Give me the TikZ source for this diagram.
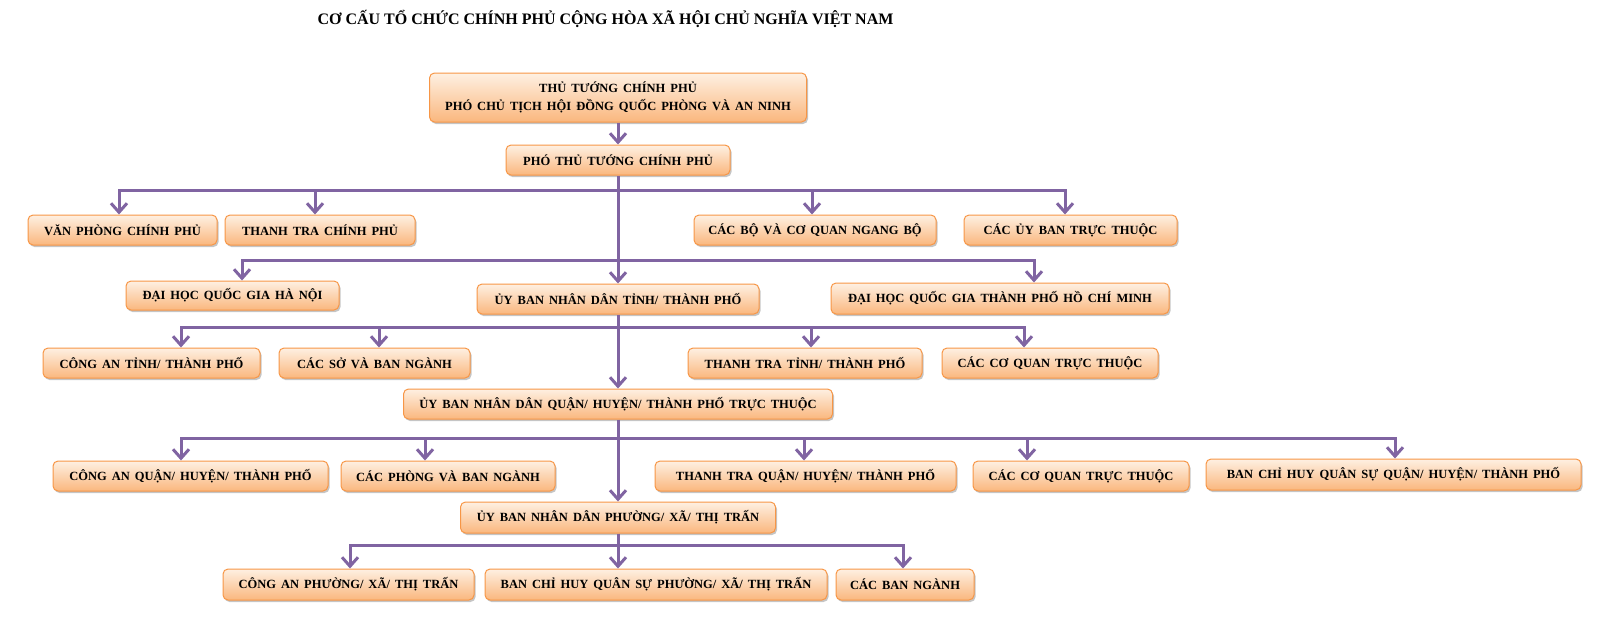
\documentclass[tikz,border=0pt]{standalone}
\usepackage{fontspec}
\setmainfont{Liberation Serif}
\newfontfamily\boxfont[WordSpace=1.6]{Liberation Serif}
\usetikzlibrary{arrows.meta,shadows}
\definecolor{obord}{HTML}{F79646}
\definecolor{otop}{HTML}{FEF0E2}
\definecolor{obot}{HTML}{FAB77E}
\definecolor{purp}{HTML}{8064A2}
\tikzset{
  bx/.style={draw=obord, line width=1pt, rounded corners=5pt, top color=otop, bottom color=obot,
    font=\boxfont\fontsize{12.5}{17.5}\selectfont\bfseries, inner sep=0pt, align=center,
    drop shadow={shadow xshift=1.5pt, shadow yshift=-2pt, fill=black!45, opacity=0.5}},
  conn/.style={draw=purp, line width=3pt},
  arr/.style={conn, -{Straight Barb[length=9pt,width=16pt]}},
  ttl/.style={font=\fontsize{16}{18}\selectfont\bfseries},
}
\begin{document}
\begin{tikzpicture}[x=1pt,y=-1pt]
\useasboundingbox (0,0) rectangle (1606,638);
\node[ttl] (title) at (605.5,19) {CƠ CẤU TỔ CHỨC CHÍNH PHỦ CỘNG HÒA XÃ HỘI CHỦ NGHĨA VIỆT NAM};
% central column
\node[bx, minimum width=377pt, minimum height=49pt] (b1) at (618,97.5) {THỦ TƯỚNG CHÍNH PHỦ\\PHÓ CHỦ TỊCH HỘI ĐỒNG QUỐC PHÒNG VÀ AN NINH};
\node[bx, minimum width=224pt, minimum height=30pt] (b2) at (618,160) {PHÓ THỦ TƯỚNG CHÍNH PHỦ};
\node[bx, minimum width=282pt, minimum height=30pt] (ubt) at (618,299) {ỦY BAN NHÂN DÂN TỈNH/ THÀNH PHỐ};
\node[bx, minimum width=429pt, minimum height=30pt] (ubq) at (618,404) {ỦY BAN NHÂN DÂN QUẬN/ HUYỆN/ THÀNH PHỐ TRỰC THUỘC};
\node[bx, minimum width=315pt, minimum height=31pt] (ubp) at (618,517.5) {ỦY BAN NHÂN DÂN PHƯỜNG/ XÃ/ THỊ TRẤN};
% row 1
\node[bx, minimum width=189pt, minimum height=30pt] (vp) at (122.5,230) {VĂN PHÒNG CHÍNH PHỦ};
\node[bx, minimum width=190pt, minimum height=30pt] (ttcp) at (320,230) {THANH TRA CHÍNH PHỦ};
\node[bx, minimum width=242pt, minimum height=30pt] (cbo) at (815,230) {CÁC BỘ VÀ CƠ QUAN NGANG BỘ};
\node[bx, minimum width=213pt, minimum height=30pt] (cub) at (1070.5,230) {CÁC ỦY BAN TRỰC THUỘC};
% row 2
\node[bx, minimum width=213pt, minimum height=29pt] (dhhn) at (232.5,295.5) {ĐẠI HỌC QUỐC GIA HÀ NỘI};
\node[bx, minimum width=338pt, minimum height=31pt] (dhhcm) at (1000,298.5) {ĐẠI HỌC QUỐC GIA THÀNH PHỐ HỒ CHÍ MINH};
% row 3
\node[bx, minimum width=217pt, minimum height=30pt] (cat) at (151.5,363) {CÔNG AN TỈNH/ THÀNH PHỐ};
\node[bx, minimum width=191pt, minimum height=30pt] (cso) at (374.5,363) {CÁC SỞ VÀ BAN NGÀNH};
\node[bx, minimum width=234pt, minimum height=30pt] (ttt) at (805,363) {THANH TRA TỈNH/ THÀNH PHỐ};
\node[bx, minimum width=216pt, minimum height=30pt] (cqt) at (1050,363) {CÁC CƠ QUAN TRỰC THUỘC};
% row 4
\node[bx, minimum width=275pt, minimum height=30pt] (caq) at (190.5,476) {CÔNG AN QUẬN/ HUYỆN/ THÀNH PHỐ};
\node[bx, minimum width=214pt, minimum height=30pt] (cph) at (448,476) {CÁC PHÒNG VÀ BAN NGÀNH};
\node[bx, minimum width=301pt, minimum height=30pt] (ttq) at (805.5,476) {THANH TRA QUẬN/ HUYỆN/ THÀNH PHỐ};
\node[bx, minimum width=216pt, minimum height=30pt] (cqq) at (1081,476) {CÁC CƠ QUAN TRỰC THUỘC};
\node[bx, minimum width=375pt, minimum height=31pt] (bchq) at (1393.5,474.5) {BAN CHỈ HUY QUÂN SỰ QUẬN/ HUYỆN/ THÀNH PHỐ};
% row 5
\node[bx, minimum width=251pt, minimum height=31pt] (cap) at (348.5,584.5) {CÔNG AN PHƯỜNG/ XÃ/ THỊ TRẤN};
\node[bx, minimum width=342pt, minimum height=31pt] (bchp) at (656,584.5) {BAN CHỈ HUY QUÂN SỰ PHƯỜNG/ XÃ/ THỊ TRẤN};
\node[bx, minimum width=138pt, minimum height=31pt] (cbn) at (905,584.5) {CÁC BAN NGÀNH};
% junctions and drop points
\coordinate (j1) at (618,190);
\coordinate (j2) at (618,260);
\coordinate (j3) at (618,327);
\coordinate (j4) at (618,438);
\coordinate (j5) at (618,545);
\coordinate (d11) at (119,190);  \coordinate (d12) at (315,190);
\coordinate (d13) at (812,190);  \coordinate (d14) at (1065,190);
\coordinate (d21) at (242,260);  \coordinate (d22) at (1034,260);
\coordinate (d31) at (181,327);  \coordinate (d32) at (379,327);
\coordinate (d33) at (811,327);  \coordinate (d34) at (1024,327);
\coordinate (d41) at (181,438);  \coordinate (d42) at (425,438);
\coordinate (d43) at (804,438);  \coordinate (d44) at (1027,438);
\coordinate (d45) at (1395,438);
\coordinate (d51) at (350,545);  \coordinate (d52) at (903,545);
% central connectors
\draw[arr] (b1.south) -- (b2.north);
\draw[arr] (b2.south) -- (ubt.north);
\draw[arr] (ubt.south) -- (ubq.north);
\draw[arr] (ubq.south) -- (ubp.north);
\draw[arr] (ubp.south) -- (ubp.south |- bchp.north);
% row 1
\draw[arr] (j1) -| (d11 |- vp.north);
\draw[arr] (d12) -- (d12 |- ttcp.north);
\draw[arr] (d13) -- (d13 |- cbo.north);
\draw[arr] (j1) -| (d14 |- cub.north);
% row 2
\draw[arr] (j2) -| (d21 |- dhhn.north);
\draw[arr] (j2) -| (d22 |- dhhcm.north);
% row 3
\draw[arr] (j3) -| (d31 |- cat.north);
\draw[arr] (d32) -- (d32 |- cso.north);
\draw[arr] (d33) -- (d33 |- ttt.north);
\draw[arr] (j3) -| (d34 |- cqt.north);
% row 4
\draw[arr] (j4) -| (d41 |- caq.north);
\draw[arr] (d42) -- (d42 |- cph.north);
\draw[arr] (d43) -- (d43 |- ttq.north);
\draw[arr] (d44) -- (d44 |- cqq.north);
\draw[arr] (j4) -| (d45 |- bchq.north);
% row 5
\draw[arr] (j5) -| (d51 |- cap.north);
\draw[arr] (j5) -| (d52 |- cbn.north);
\end{tikzpicture}
\end{document}
